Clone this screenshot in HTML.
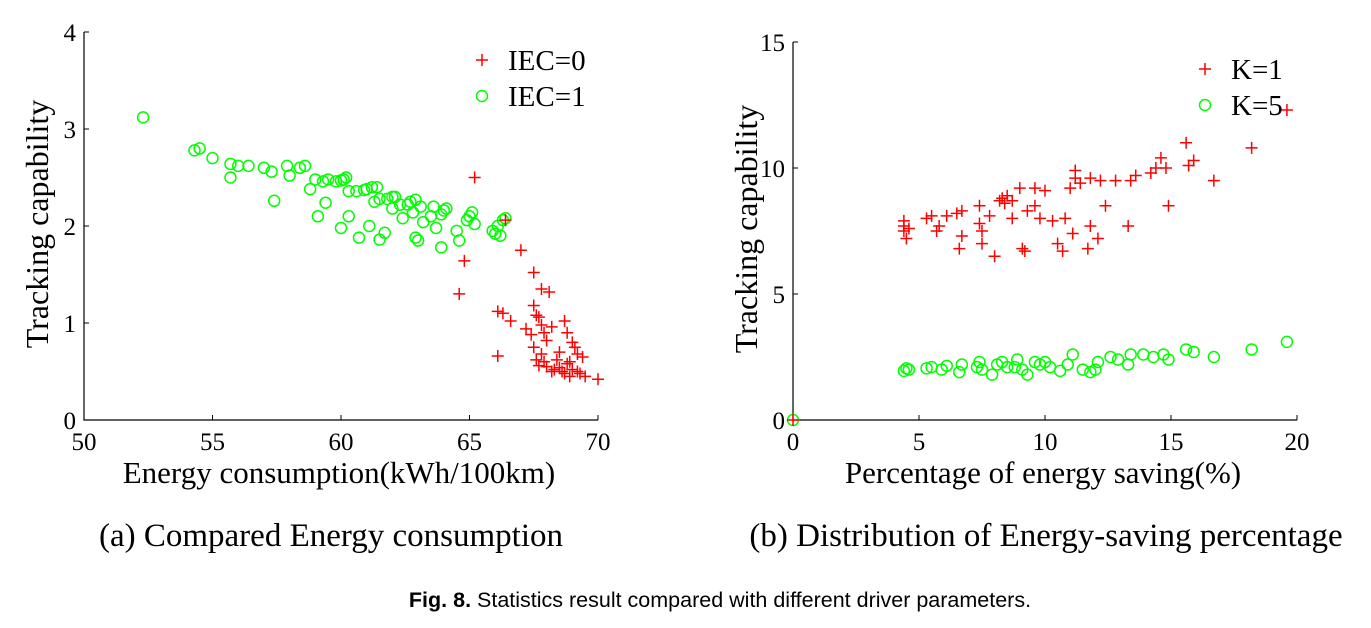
<!DOCTYPE html>
<html><head><meta charset="utf-8"><style>
body{margin:0;background:#fff;width:1371px;height:623px;overflow:hidden}
svg text{font-family:"Liberation Serif",serif;fill:#000}
</style></head><body>
<svg width="1371" height="623">
<g id="left"></g>
<g id="right"></g>
<text x="331" y="546" font-size="33" text-anchor="middle">(a) Compared Energy consumption</text>
<text x="1046" y="546" font-size="33" text-anchor="middle">(b) Distribution of Energy-saving percentage</text>
<text x="720" y="607" font-size="21.5" text-anchor="middle" style="font-family:'Liberation Sans',sans-serif"><tspan font-weight="bold">Fig. 8.</tspan> Statistics result compared with different driver parameters.</text>
</svg>
<script>
const aXTicks=[50,55,60,65,70];
const aYTicks=[0,1,2,3,4];
const aGreen=[[52.3,3.12],[54.3,2.78],[54.5,2.80],[55.0,2.70],[55.7,2.64],[55.7,2.50],[56.0,2.62],[56.4,2.62],[57.0,2.60],[57.3,2.56],[57.4,2.26],[57.9,2.62],[58.0,2.52],[58.4,2.60],[58.6,2.62],[58.8,2.38],[59.0,2.48],[59.1,2.10],[59.3,2.46],[59.5,2.48],[59.4,2.24],[59.8,2.46],[60.0,2.47],[60.1,2.48],[60.2,2.50],[60.0,1.98],[60.3,2.36],[60.3,2.10],[60.6,2.36],[60.7,1.88],[60.9,2.37],[61.0,2.38],[61.2,2.40],[61.3,2.25],[61.4,2.40],[61.1,2.00],[61.5,1.86],[61.5,2.28],[61.8,2.28],[61.7,1.93],[62.0,2.30],[62.1,2.30],[62.0,2.18],[62.3,2.22],[62.4,2.08],[62.6,2.22],[62.7,2.25],[62.8,2.14],[62.9,2.27],[62.9,1.88],[63.0,1.85],[63.1,2.20],[63.2,2.04],[63.5,2.10],[63.6,2.20],[63.7,1.98],[63.9,1.78],[63.9,2.12],[64.0,2.16],[64.1,2.18],[64.5,1.95],[64.6,1.85],[64.9,2.06],[65.0,2.10],[65.2,2.02],[65.1,2.14],[65.9,1.95],[66.0,1.92],[66.1,2.00],[66.2,1.90],[66.3,2.06],[66.4,2.08]];
const aRed=[[65.2,2.50],[66.4,2.06],[64.8,1.64],[64.6,1.30],[67.0,1.75],[67.5,1.52],[67.8,1.35],[68.1,1.32],[66.1,1.12],[66.3,1.10],[66.6,1.02],[66.1,0.66],[67.2,0.94],[67.4,0.88],[67.5,1.18],[67.6,1.08],[67.7,1.06],[67.8,0.98],[67.9,0.90],[68.0,0.82],[68.2,0.96],[68.5,0.70],[68.7,1.02],[68.8,0.90],[69.2,0.68],[69.4,0.65],[70.0,0.42],[67.5,0.75],[67.6,0.62],[67.7,0.56],[67.8,0.68],[68.0,0.55],[68.3,0.52],[68.4,0.62],[68.5,0.54],[68.6,0.50],[68.7,0.48],[68.8,0.58],[68.9,0.60],[69.0,0.52],[69.1,0.75],[69.2,0.50],[69.3,0.48],[69.5,0.45],[68.2,0.50],[67.9,0.60],[69.0,0.80],[68.9,0.45]];
const bXTicks=[0,5,10,15,20];
const bYTicks=[0,5,10,15];
const bRed=[[0,0],[4.4,7.7],[4.4,7.5],[4.5,7.2],[4.4,7.9],[4.6,7.6],[5.3,8.0],[5.5,8.1],[5.8,7.7],[5.7,7.5],[6.1,8.1],[6.5,8.2],[6.7,8.3],[6.6,6.8],[6.7,7.3],[7.4,8.5],[7.5,7.5],[7.4,7.8],[7.5,7.0],[8.0,6.5],[7.8,8.1],[8.2,8.7],[8.3,8.8],[8.4,8.6],[8.5,8.9],[8.7,8.7],[8.7,8.0],[9.0,9.2],[9.1,6.8],[9.2,6.7],[9.3,8.3],[9.6,8.5],[9.6,9.2],[9.8,8.0],[10.0,9.1],[10.3,7.9],[10.5,7.0],[10.7,6.7],[10.8,8.0],[11.0,9.2],[11.1,7.4],[11.2,9.6],[11.2,9.9],[11.4,9.4],[11.7,6.8],[11.8,7.7],[11.8,9.6],[12.1,7.2],[12.2,9.5],[12.4,8.5],[12.8,9.5],[13.3,7.7],[13.4,9.5],[13.6,9.7],[14.2,9.8],[14.4,10.0],[14.6,10.4],[14.8,10.0],[14.9,8.5],[15.6,11.0],[15.7,10.1],[15.9,10.3],[16.7,9.5],[18.2,10.8],[19.6,12.3]];
const bGreen=[[0,0],[4.4,1.95],[4.5,2.05],[4.6,2.0],[5.3,2.05],[5.5,2.1],[5.9,2.0],[6.1,2.15],[6.6,1.9],[6.7,2.2],[7.3,2.1],[7.4,2.3],[7.5,2.0],[7.9,1.8],[8.1,2.2],[8.3,2.3],[8.5,2.1],[8.9,2.4],[9.1,2.0],[9.3,1.8],[9.6,2.3],[9.8,2.2],[10.2,2.1],[10.6,1.95],[10.9,2.2],[11.1,2.6],[11.5,2.0],[11.8,1.9],[12.1,2.3],[12.6,2.5],[12.9,2.4],[13.4,2.6],[13.9,2.6],[14.3,2.5],[14.7,2.6],[14.9,2.4],[15.6,2.8],[15.9,2.7],[16.7,2.5],[18.2,2.8],[19.6,3.1],[8.8,2.1],[10.0,2.3],[12.0,2.0],[13.3,2.2]];
const NS='http://www.w3.org/2000/svg';
function mk(p,t,a){const e=document.createElementNS(NS,t);for(const k in a)e.setAttribute(k,a[k]);p.appendChild(e);return e;}
function plus(g,x,y){const e=mk(g,'path',{d:`M${x-6} ${y}H${x+6}M${x} ${y-6}V${y+6}`,stroke:'#f00','stroke-width':1.5,fill:'none'});

}
function circ(g,x,y){const e=mk(g,'circle',{cx:x,cy:y,r:5.5,stroke:'#0f0','stroke-width':1.5,fill:'none'});

}
function chart(g,o){
 const sx=v=>o.x0+(v-o.xt[0])/(o.xt[o.xt.length-1]-o.xt[0])*(o.x1-o.x0);
 const sy=v=>o.y0-(v-o.yt[0])/(o.yt[o.yt.length-1]-o.yt[0])*(o.y0-o.y1);
 const ax=mk(g,'path',{d:`M${o.x0} ${o.y1}V${o.y0}H${o.x1}`,stroke:'#000','stroke-width':1.2,fill:'none'});
 
 
 o.xt.forEach(v=>{mk(g,'path',{d:`M${sx(v)} ${o.y0}v-5`,stroke:'#000'});
  const t=mk(g,'text',{x:sx(v),y:o.y0+30,'font-size':25,'text-anchor':'middle'});t.textContent=v;
  
  });
 o.yt.forEach(v=>{mk(g,'path',{d:`M${o.x0} ${sy(v)}h5`,stroke:'#000'});
  const t=mk(g,'text',{x:o.x0-8,y:sy(v)+9,'font-size':25,'text-anchor':'end'});t.textContent=v;
  
  });
 const xt=mk(g,'text',{x:(o.x0+o.x1)/2-2,y:o.y0+63,'font-size':31,'text-anchor':'middle'});xt.textContent=o.xl;
 
 
 const yt=mk(g,'text',{x:0,y:0,'font-size':32,'text-anchor':'middle',transform:`translate(${o.x0-36},${(o.y0+o.y1)/2-2}) rotate(-90)`});yt.textContent='Tracking capability';
 
 
 o.green.forEach(p=>circ(g,sx(p[0]),sy(p[1])));
 o.red.forEach(p=>plus(g,sx(p[0]),sy(p[1])));
 plus(g,o.lx,o.ly);circ(g,o.lx,o.ly+36);
 const l1=mk(g,'text',{x:o.lx+26,y:o.ly+10,'font-size':29});l1.textContent=o.l1;
 
 
 const l2=mk(g,'text',{x:o.lx+26,y:o.ly+46,'font-size':29});l2.textContent=o.l2;
 
 
}
chart(document.getElementById('left'),{x0:84,x1:598,y0:420,y1:32,xt:aXTicks,yt:aYTicks,green:aGreen,red:aRed,xl:'Energy consumption(kWh/100km)',lx:482,ly:60,l1:'IEC=0',l2:'IEC=1'});
chart(document.getElementById('right'),{x0:793,x1:1297,y0:420,y1:42,xt:bXTicks,yt:bYTicks,green:bGreen,red:bRed,xl:'Percentage of energy saving(%)',lx:1205,ly:69,l1:'K=1',l2:'K=5'});
</script>
</body></html>
